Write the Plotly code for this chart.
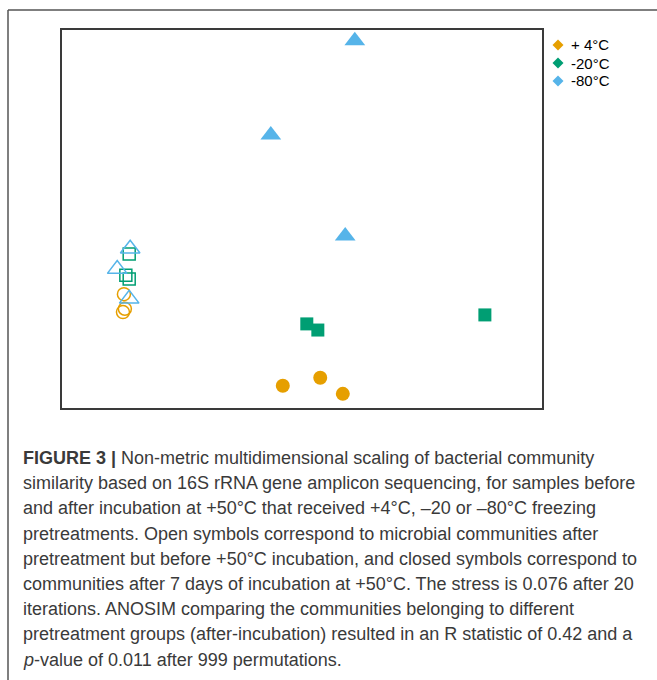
import plotly.graph_objects as go

# NMDS coordinates (arbitrary units)
groups = ["+4°C", "-20°C", "-80°C"]
legend_labels = ["+ 4°C", "-20°C", "-80°C"]
colors = ["#E69F00", "#009E73", "#56B4E9"]

# closed symbols: after 7 days incubation at +50°C
after_x = {
    "+4°C": [-0.040, 0.038, 0.085],
    "-20°C": [0.010, 0.033, 0.381],
    "-80°C": [0.110, -0.065, 0.090],
}
after_y = {
    "+4°C": [-0.353, -0.336, -0.370],
    "-20°C": [-0.222, -0.235, -0.203],
    "-80°C": [0.377, 0.178, -0.036],
}
# open symbols: after pretreatment, before incubation
before_x = {
    "+4°C": [-0.371, -0.373, -0.369],
    "-20°C": [-0.360, -0.367, -0.360],
    "-80°C": [-0.358, -0.385, -0.360],
}
before_y = {
    "+4°C": [-0.159, -0.197, -0.190],
    "-20°C": [-0.074, -0.119, -0.127],
    "-80°C": [-0.063, -0.106, -0.169],
}
symbols = {"+4°C": "circle", "-20°C": "square", "-80°C": "triangle-up"}
sizes = {"+4°C": 14, "-20°C": 13, "-80°C": 18}

caption_lines = [
    "<b>FIGURE 3 |</b> Non-metric multidimensional scaling of bacterial community",
    "similarity based on 16S rRNA gene amplicon sequencing, for samples before",
    "and after incubation at +50°C that received +4°C, –20 or –80°C freezing",
    "pretreatments. Open symbols correspond to microbial communities after",
    "pretreatment but before +50°C incubation, and closed symbols correspond to",
    "communities after 7 days of incubation at +50°C. The stress is 0.076 after 20",
    "iterations. ANOSIM comparing the communities belonging to different",
    "pretreatment groups (after-incubation) resulted in an R statistic of 0.42 and a",
    "<i>p</i>-value of 0.011 after 999 permutations.",
]

fig = go.Figure()
for g, c in zip(groups, colors):
    fig.add_trace(go.Scatter(
        x=before_x[g], y=before_y[g], mode="markers", showlegend=False, hoverinfo="skip",
        marker=dict(symbol=symbols[g] + "-open", size=sizes[g] - 1, color=c,
                    line=dict(width=1.5, color=c)),
    ))
for g, c in zip(groups, colors):
    fig.add_trace(go.Scatter(
        x=after_x[g], y=after_y[g], mode="markers", showlegend=False, hoverinfo="skip",
        marker=dict(symbol=symbols[g], size=sizes[g], color=c, line=dict(width=0)),
    ))

W, H = 657, 680
L, R, T, B = 62, 542, 30, 408
pw, ph = R - L, B - T

def px(x):
    return (x - L) / pw

def py(y):
    return (B - y) / ph

fig.update_xaxes(range=[-0.5, 0.5], showgrid=False, zeroline=False, showticklabels=False,
                 ticks="", showline=True, mirror=True, linecolor="#3a3a3a", linewidth=2)
fig.update_yaxes(range=[-0.4, 0.4], showgrid=False, zeroline=False, showticklabels=False,
                 ticks="", showline=True, mirror=True, linecolor="#3a3a3a", linewidth=2)

shapes = [
    dict(type="line", xref="paper", yref="paper", x0=px(8), x1=px(8), y0=py(10), y1=py(690),
         line=dict(color="#555555", width=1.5)),
    dict(type="line", xref="paper", yref="paper", x0=px(8), x1=px(670), y0=py(10), y1=py(10),
         line=dict(color="#555555", width=1.5)),
]

annotations = []
# legend (diamond glyph + label)
for i, (lab, c) in enumerate(zip(legend_labels, colors)):
    cy = 45 + i * 18
    cx = 558
    r = 5.5
    shapes.append(dict(
        type="path", xref="paper", yref="paper",
        path=(f"M {px(cx)} {py(cy - r)} L {px(cx + r)} {py(cy)} "
              f"L {px(cx)} {py(cy + r)} L {px(cx - r)} {py(cy)} Z"),
        fillcolor=c, line=dict(width=0),
    ))
    annotations.append(dict(
        text=lab, xref="paper", yref="paper", x=px(569), y=py(cy),
        xanchor="left", yanchor="middle", showarrow=False,
        font=dict(family="Liberation Sans, Arial, sans-serif", size=15, color="#000000"),
    ))

y0 = 458
for i, line in enumerate(caption_lines):
    annotations.append(dict(
        text=line, xref="paper", yref="paper", x=px(21), y=py(y0 + i * 25.2),
        xanchor="left", yanchor="middle", showarrow=False,
        font=dict(family="Liberation Sans, Arial, sans-serif", size=18, color="#3a3a3a"),
    ))

fig.update_layout(
    width=W, height=H,
    margin=dict(l=L, r=W - R, t=T, b=H - B, autoexpand=False),
    paper_bgcolor="white", plot_bgcolor="white",
    shapes=shapes, annotations=annotations, showlegend=False,
)

fig.write_html("out.html", config={"displayModeBar": False},
               post_script="document.body.style.margin='0';")
